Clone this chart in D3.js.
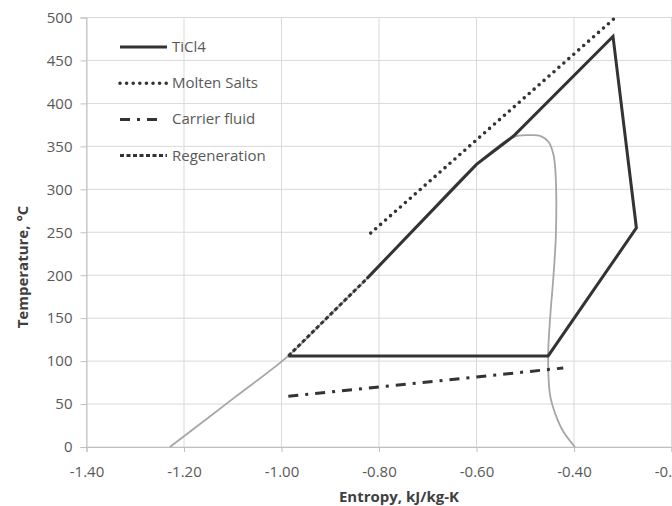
<!DOCTYPE html>
<html>
<head>
<meta charset="utf-8">
<script src="https://cdn.jsdelivr.net/npm/d3@7"></script>
<style>
  body { margin: 0; background: #fff; }
  text { font-family: "Open Sans", "Liberation Sans", sans-serif; }
</style>
</head>
<body>
<svg class="chart"></svg>
<script>
const width = 672;
const height = 506;

// data: [entropy kJ/kg-K, temperature °C]
const xTicks = [-1.40, -1.20, -1.00, -0.80, -0.60, -0.40, -0.20];
const yTicks = [0, 50, 100, 150, 200, 250, 300, 350, 400, 450, 500];

const ticl4 = [
    [-0.825, 196], [-0.6, 329], [-0.524, 362],
    [-0.32, 478], [-0.272, 255], [-0.453, 106], [-0.986, 106]
];
const moltenSalts = [[-0.817, 249], [-0.317, 499]];
const carrierFluid = [[-0.986, 59], [-0.422, 92]];
const regeneration = [[-0.986, 106], [-0.825, 196]];
const dome = [
    [-1.229, 0], [-1.10, 56], [-0.986, 106], [-0.90, 154], [-0.825, 196],
    [-0.715, 262], [-0.6, 329], [-0.524, 361], [-0.49, 363], [-0.468, 362],
    [-0.452, 355], [-0.442, 340], [-0.438, 320], [-0.437, 250], [-0.442, 200],
    [-0.449, 150], [-0.453, 106], [-0.449, 60], [-0.438, 38], [-0.422, 18],
    [-0.398, 0]
];

const legendItems = ['TiCl4', 'Molten Salts', 'Carrier fluid', 'Regeneration'];

const svg = d3.select('.chart')
    .attr('width', width)
    .attr('height', height);

const x = d3.scaleLinear().domain([-1.4, -0.2]).range([86.5, 671.5]);
const y = d3.scaleLinear().domain([0, 500]).range([447, 17.5]);

const fmt = d => d3.format('.2f')(d).replace('−', '-');

// gridlines
svg.append('g')
    .selectAll('line')
    .data(yTicks).enter()
    .append('line')
    .attr('x1', x(-1.4)).attr('x2', width + 20)
    .attr('y1', d => y(d)).attr('y2', d => y(d))
    .attr('stroke', '#d9d9d9').attr('stroke-width', 1);

svg.append('g')
    .selectAll('line')
    .data(xTicks).enter()
    .append('line')
    .attr('x1', d => x(d)).attr('x2', d => x(d))
    .attr('y1', y(0)).attr('y2', y(500))
    .attr('stroke', '#d9d9d9').attr('stroke-width', 1);

// axes
const yAxis = d3.axisLeft(y).tickValues(yTicks).tickSize(6).tickPadding(8).tickFormat(d => d);
const yg = svg.append('g').attr('transform', `translate(${x(-1.4)},0)`).call(yAxis);

const xAxis = d3.axisBottom(x).tickValues(xTicks).tickSize(5).tickPadding(17).tickFormat(fmt);
const xg = svg.append('g').attr('transform', `translate(0,${y(0)})`).call(xAxis);

[yg, xg].forEach(g => {
    g.select('.domain').attr('stroke', '#bfbfbf');
    g.selectAll('.tick line').attr('stroke', '#bfbfbf');
    g.selectAll('.tick text')
        .attr('fill', '#595959')
        .attr('font-size', 15)
        .attr('font-family', '"Open Sans", sans-serif');
});
xg.selectAll('.tick text').attr('dy', '0.5em');

// axis titles
svg.append('text')
    .attr('transform', 'translate(28,267) rotate(-90)')
    .attr('text-anchor', 'middle')
    .attr('font-size', 15)
    .attr('font-weight', 'bold')
    .attr('fill', '#404040')
    .text('Temperature, °C');

svg.append('text')
    .attr('x', 399)
    .attr('y', 502)
    .attr('text-anchor', 'middle')
    .attr('font-size', 15)
    .attr('font-weight', 'bold')
    .attr('fill', '#404040')
    .text('Entropy, kJ/kg-K');

// series
const line = d3.line().x(d => x(d[0])).y(d => y(d[1]));

svg.append('path')
    .datum(dome)
    .attr('d', line.curve(d3.curveCatmullRom.alpha(0.5)))
    .attr('fill', 'none')
    .attr('stroke', '#a6a6a6')
    .attr('stroke-width', 1.8);

line.curve(d3.curveLinear);

const styles = {
    'TiCl4': { dash: null, width: 3, cap: 'butt' },
    'Molten Salts': { dash: '0,6.6', width: 3.6, cap: 'round' },
    'Carrier fluid': { dash: '10,7,3,7', width: 3, cap: 'butt' },
    'Regeneration': { dash: '4,2.5', width: 3, cap: 'butt' }
};

const seriesData = {
    'TiCl4': ticl4,
    'Molten Salts': moltenSalts,
    'Carrier fluid': carrierFluid,
    'Regeneration': regeneration
};

legendItems.forEach(name => {
    const s = styles[name];
    svg.append('path')
        .datum(seriesData[name])
        .attr('d', line)
        .attr('fill', 'none')
        .attr('stroke', '#333')
        .attr('stroke-width', s.width)
        .attr('stroke-linecap', s.cap)
        .attr('stroke-linejoin', 'miter')
        .attr('stroke-dasharray', s.dash);
});

// legend
const legend = svg.append('g').attr('transform', 'translate(120,47)');
legendItems.forEach((name, i) => {
    const s = styles[name];
    const gy = i * 36.2;
    legend.append('line')
        .attr('x1', 0).attr('x2', name === 'Carrier fluid' ? 42 : 47)
        .attr('y1', gy).attr('y2', gy)
        .attr('stroke', '#333')
        .attr('stroke-width', s.width)
        .attr('stroke-linecap', s.cap)
        .attr('stroke-dasharray', s.dash);
    legend.append('text')
        .attr('x', 52)
        .attr('y', gy + 5)
        .attr('font-size', 15)
        .attr('fill', '#595959')
        .text(name);
});
</script>
</body>
</html>
